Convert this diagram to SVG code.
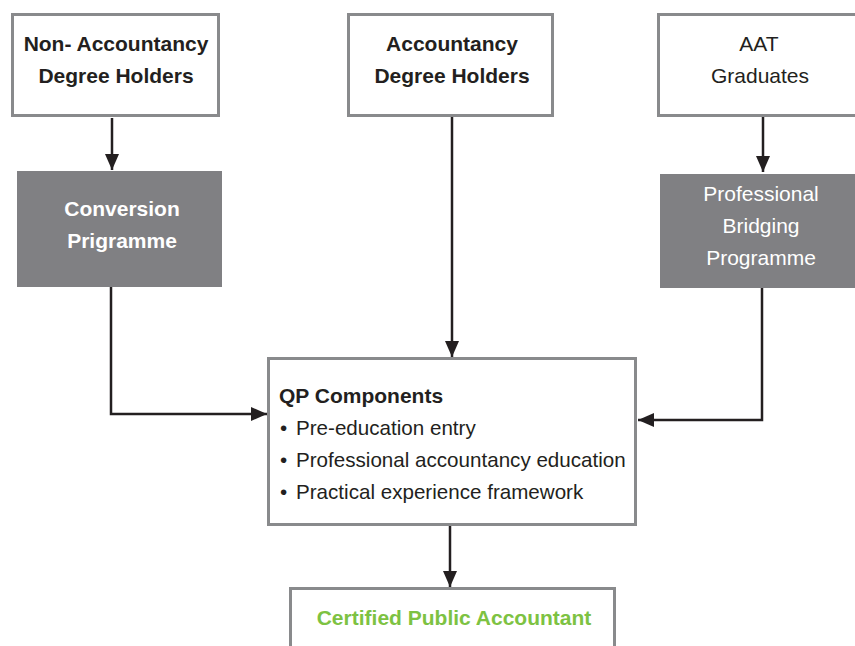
<svg xmlns="http://www.w3.org/2000/svg" width="855" height="646" viewBox="0 0 855 646">
<style>
.box{fill:#fff;stroke:#898a8c;stroke-width:3}
.dark{fill:#808083}
.conn{fill:none;stroke:#231f20;stroke-width:2.5}
.tb{font-family:"Liberation Sans",Arial,sans-serif;font-weight:bold;font-size:21px;fill:#231f20;text-anchor:middle}
.tw{font-family:"Liberation Sans",Arial,sans-serif;font-size:21px;fill:#fff;text-anchor:middle}
.twb{font-family:"Liberation Sans",Arial,sans-serif;font-weight:bold;font-size:21px;fill:#fff;text-anchor:middle}
.tr{font-family:"Liberation Sans",Arial,sans-serif;font-size:21px;fill:#231f20}
.li{font-family:"Liberation Sans",Arial,sans-serif;font-size:20.6px;fill:#231f20}
</style>
<defs>
<marker id="ah" markerUnits="userSpaceOnUse" markerWidth="16" markerHeight="14" refX="16" refY="7" orient="auto">
<path d="M0,0 L16,7 L0,14 z" fill="#231f20"/>
</marker>
</defs>
<rect width="855" height="646" fill="#fff"/>
<g id="connectors">
<path class="conn" d="M112,118 V170" marker-end="url(#ah)"/>
<path class="conn" d="M452,117 V357" marker-end="url(#ah)"/>
<path class="conn" d="M763,116 V172" marker-end="url(#ah)"/>
<path class="conn" d="M111,287 V414 H267" marker-end="url(#ah)"/>
<path class="conn" d="M762,288 V420 H638" marker-end="url(#ah)"/>
<path class="conn" d="M450,526 V587" marker-end="url(#ah)"/>
</g>
<g id="non-accountancy">
<rect class="box" x="12.5" y="14.5" width="206" height="101"/>
<text class="tb" x="116" y="51">Non- Accountancy</text>
<text class="tb" x="116" y="83">Degree Holders</text>
</g>
<g id="accountancy">
<rect class="box" x="348.5" y="14.5" width="204" height="101"/>
<text class="tb" x="452" y="51">Accountancy</text>
<text class="tb" x="452" y="83">Degree Holders</text>
</g>
<g id="aat">
<rect class="box" x="658.5" y="14.5" width="200" height="101"/>
<text class="tr" x="759" y="51" text-anchor="middle">AAT</text>
<text class="tr" x="760" y="83" text-anchor="middle">Graduates</text>
</g>
<g id="conversion">
<rect class="dark" x="17" y="171" width="205" height="116"/>
<text class="twb" x="122" y="216">Conversion</text>
<text class="twb" x="122" y="248">Prigramme</text>
</g>
<g id="bridging">
<rect class="dark" x="660" y="174" width="200" height="114"/>
<text class="tw" x="761" y="201">Professional</text>
<text class="tw" x="761" y="233">Bridging</text>
<text class="tw" x="761" y="265">Programme</text>
</g>
<g id="qp">
<rect class="box" x="268.5" y="358.5" width="367" height="166"/>
<text class="tr" x="279" y="403" font-weight="bold">QP Components</text>
<text class="li" x="280" y="435">•<tspan x="296">Pre-education entry</tspan></text>
<text class="li" x="280" y="467">•<tspan x="296">Professional accountancy education</tspan></text>
<text class="li" x="280" y="499">•<tspan x="296">Practical experience framework</tspan></text>
</g>
<g id="cpa">
<rect class="box" x="290.5" y="588.5" width="324" height="70"/>
<text class="tb" x="454" y="625" style="fill:#7dc242">Certified Public Accountant</text>
</g>
</svg>
